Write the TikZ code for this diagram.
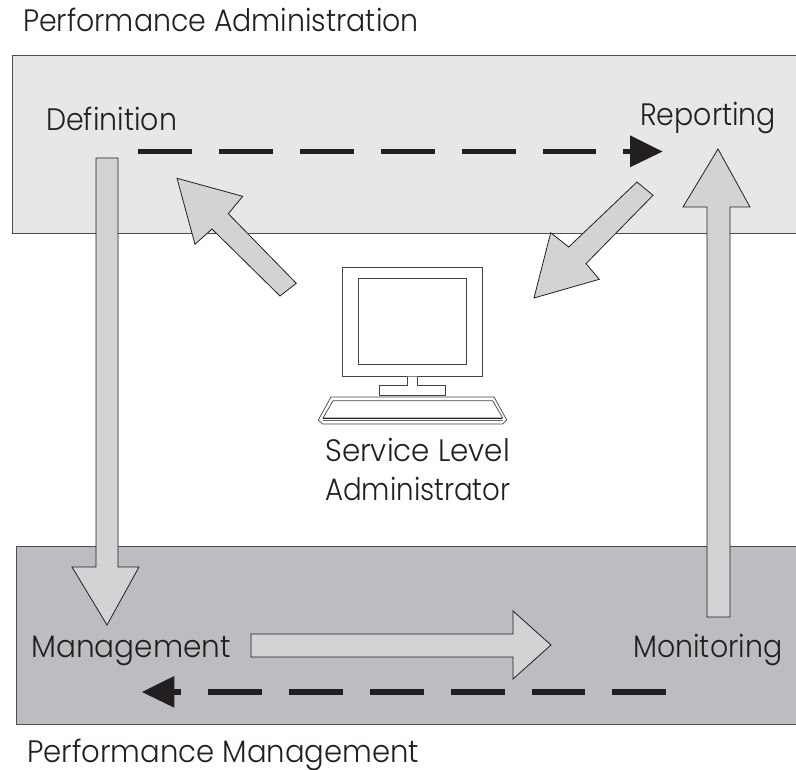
\documentclass[tikz,border=0pt]{standalone}
\usepackage{fontspec}
\setmainfont{Poppins Light}[FakeStretch=0.917]
\definecolor{topfill}{HTML}{E6E7E9}
\definecolor{botfill}{HTML}{BCBDC1}
\definecolor{arrowfill}{HTML}{D1D3D5}
\definecolor{ink}{HTML}{231F20}
\tikzset{
  panel/.style={draw=ink!80,line width=0.9pt},
  blockarrow/.style={draw=ink,fill=arrowfill,line width=0.8pt,line join=miter},
  label/.style={inner sep=0pt,anchor=base west,text=ink,font=\fontsize{31}{36}\selectfont},
  squeeze/.style={transform shape,xscale=#1},
  dashline/.style={draw=ink,line width=5.4pt},
  dashhead/.style={fill=ink,draw=none},
  pcline/.style={draw=ink!85,line width=0.7pt,fill=white},
}
\begin{document}
\begin{tikzpicture}[x=1pt,y=-1pt]
\useasboundingbox (0,0) rectangle (796,770);
\path[panel,fill=topfill] (796,55) -- (12,55) -- (12,233) -- (796,233);
\path[panel,fill=botfill] (796,546) -- (16,546) -- (16,724) -- (796,724);
\node[label] (titleA) at (23,32) {Performance Administration};
\node[label,squeeze=1.024] (titleB) at (27,762) {Performance Management};
\node[label] (def) at (46,131) {Definition};
\node[label] (rep) at (640,126) {Reporting};
\node[label,squeeze=1.04] (mgmt) at (31,657) {Management};
\node[label] (mon) at (633,657.5) {Monitoring};
\node[label,squeeze=1.034] (sla1) at (325,461) {Service Level};
\node[label,squeeze=0.973] (sla2) at (325,500) {Administrator};
\draw[blockarrow] (96,158) -- (118,158) -- (118,567) -- (139,567) -- (107,625) -- (72,567) -- (96,567) -- cycle;
\draw[blockarrow] (251,634) -- (513,634) -- (513,611) -- (551,645) -- (513,679) -- (513,657) -- (251,657) -- cycle;
\draw[blockarrow] (707,617) -- (730,617) -- (730,207) -- (750,207) -- (718,149) -- (683,207) -- (707,207) -- cycle;
\draw[blockarrow] (637,182) -- (653,195.3) -- (586,263.7) -- (599.3,279.3) -- (534,298) -- (550.7,232.7) -- (568.7,247) -- cycle;
\draw[blockarrow] (296.3,283.3) -- (280,296) -- (212,229) -- (195,244.3) -- (177,178.3) -- (242.7,196.3) -- (228.3,213.7) -- cycle;
\foreach \a/\b in {138.3/192,219/273,300/354,381/435,462/516,542.5/596}{\draw[dashline] (\a,151.5) -- (\b,151.5);}
\draw[dashline] (623,151.5) -- (640,151.5);
\fill[dashhead] (630,135.3) -- (662.5,151.5) -- (630,167.3) -- cycle;
\foreach \a/\b in {612/666,531.5/585,451/504.5,370/423.5,289/342.5,208.3/262}{\draw[dashline] (\a,692) -- (\b,692);}
\draw[dashline] (165,692) -- (181,692);
\fill[dashhead] (174.3,676) -- (142,692) -- (174.3,707.7) -- cycle;
\draw[pcline] (342.7,267) rectangle (482.7,376.7);
\draw[pcline] (358,278) rectangle (466.7,364.3);
\draw[pcline] (407.3,376.7) -- (407.3,385.3) -- (379.3,385.3) -- (379.3,395) -- (445.3,395) -- (445.3,385.3) -- (417.3,385.3) -- (417.3,376.7);
\draw[pcline] (331,397) -- (494,397) -- (506.7,420) -- (502.7,424) -- (322.7,424) -- (318.3,420) -- cycle;
\draw[pcline] (333,400.7) -- (492.7,400.7) -- (502.7,418) -- (323,418) -- cycle;
\draw[draw=ink,line width=0.9pt] (323,418) -- (502,418);
\draw[draw=ink!70,line width=0.6pt] (322.7,420.5) -- (502.7,420.5);
\end{tikzpicture}
\end{document}
